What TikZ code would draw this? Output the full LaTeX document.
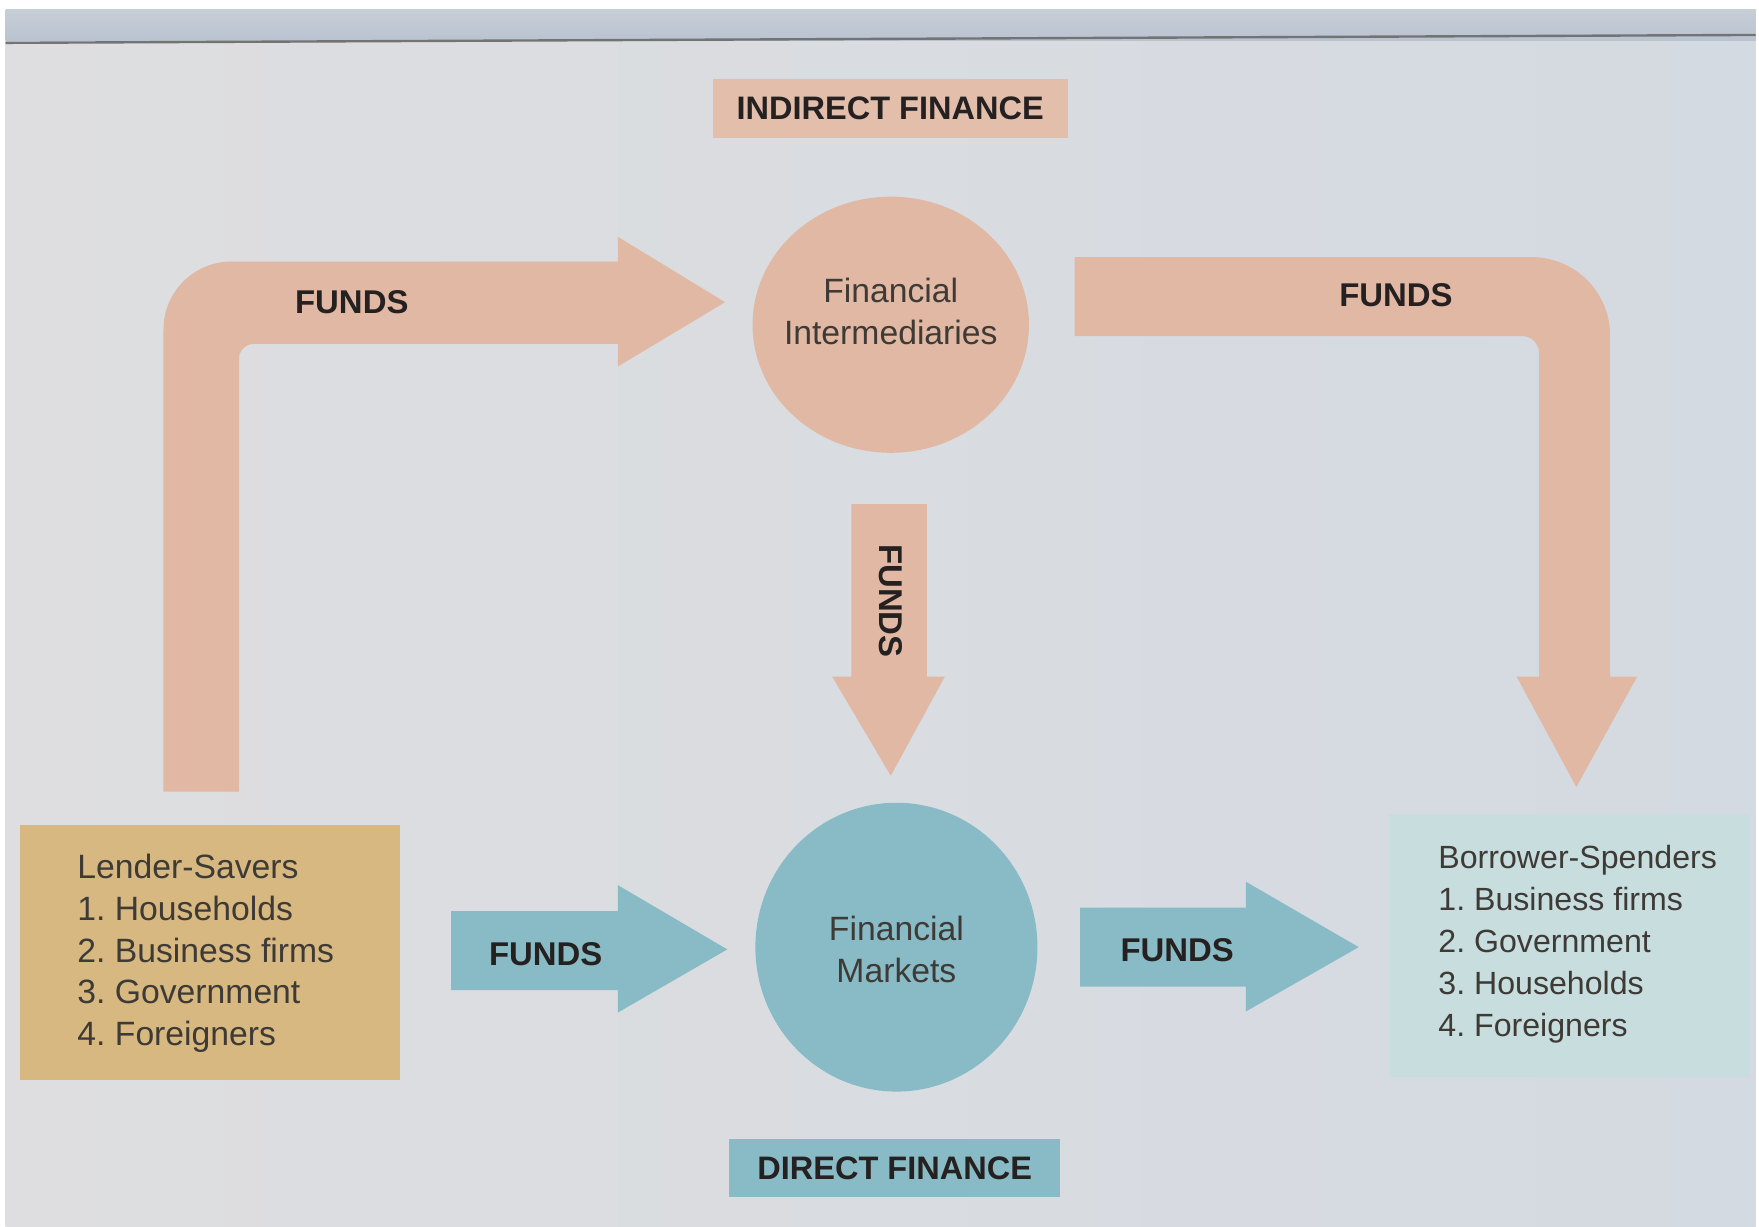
\documentclass[tikz,border=0pt]{standalone}
\usepackage{fontspec}
\setmainfont{Liberation Sans}
\usetikzlibrary{shapes.geometric}
\definecolor{paperL}{RGB}{222,222,224}
\definecolor{paperR}{RGB}{212,218,225}
\definecolor{stripT}{RGB}{200,206,214}
\definecolor{stripB}{RGB}{185,195,208}
\definecolor{salmon}{RGB}{224,184,164}
\definecolor{tealc}{RGB}{136,187,197}
\definecolor{tanc}{RGB}{214,184,128}
\definecolor{lteal}{RGB}{200,221,221}
\definecolor{ink}{RGB}{38,33,33}
\definecolor{boxink}{RGB}{62,58,54}
\tikzset{
  funds/.style={font=\fontsize{8.3pt}{10pt}\selectfont\bfseries, text=ink, inner sep=0pt},
  body/.style={font=\fontsize{8.5pt}{10.5pt}\selectfont\frenchspacing, text=boxink, inner sep=0pt, align=left},
  bodyr/.style={font=\fontsize{8.1pt}{10.6pt}\selectfont\frenchspacing, text=boxink, inner sep=0pt, align=left},
  ctext/.style={font=\fontsize{8.5pt}{10.5pt}\selectfont, text=boxink, inner sep=0pt, align=center},
  tagbox/.style={font=\fontsize{8.2pt}{10pt}\selectfont\bfseries, text=ink, inner sep=0pt, draw=none},
  blob/.style={ellipse, inner sep=0pt, draw=none},
}
\begin{document}
\begin{tikzpicture}[x=0.01cm,y=-0.01cm]
\useasboundingbox (0,0) rectangle (1560,1088);
\fill[white] (0,0) rectangle (1560,1088);
\shade[left color=paperL,right color=paperR] (5,8) rectangle (1557,1091);
\shade[top color=stripT,bottom color=stripB] (5,8) rectangle (1557,36);
\draw[black!55, line width=0.6pt] (5,38) -- (1557,31);

% top-left bent arrow
\fill[salmon] (145,702) -- (145,292) .. controls (145,259) and (172,232) .. (205,232)
  -- (548,232) -- (548,210) -- (643,268) -- (548,325) -- (548,305) -- (225,305)
  .. controls (218,305) and (212,311) .. (212,318) -- (212,702) -- cycle;
% top-right bent arrow
\fill[salmon] (953,228) -- (1358,228) .. controls (1397,228) and (1428,259) .. (1428,298)
  -- (1428,600) -- (1452,600) -- (1398,698) -- (1345,600) -- (1365,600) -- (1365,313)
  .. controls (1365,305) and (1358,298) .. (1350,298) -- (953,298) -- cycle;
% middle down arrow
\fill[salmon] (755,447) -- (822,447) -- (822,600) -- (838,600) -- (790,688) -- (738,600) -- (755,600) -- cycle;
% teal arrows
\fill[tealc] (400,808) -- (548,808) -- (548,785) -- (645,842) -- (548,898) -- (548,878) -- (400,878) -- cycle;
\fill[tealc] (958,805) -- (1105,805) -- (1105,782) -- (1205,840) -- (1105,897) -- (1105,875) -- (958,875) -- cycle;

% circles
\node[blob, fill=salmon, minimum width=2.45cm, minimum height=2.27cm] (fi) at (790,288) {};
\node[blob, fill=tealc, minimum width=2.50cm, minimum height=2.56cm] (fm) at (795,840) {};
\node[ctext] (fitext) at (790,276) {Financial\\Intermediaries};
\node[ctext] (fmtext) at (795,842) {Financial\\Markets};

% boxes
\node[fill=tanc, minimum width=3.37cm, minimum height=2.26cm, inner sep=0pt] (lender) at (186.5,845) {};
\node[body, anchor=north west] (lendertext) at (68,757) {Lender-Savers\\1. Households\\2. Business firms\\3. Government\\4. Foreigners};
\node[fill=lteal, minimum width=3.20cm, minimum height=2.33cm, inner sep=0pt] (borrower) at (1392,838.5) {};
\node[bodyr, anchor=north west] (borrowertext) at (1275,749) {Borrower-Spenders\\1. Business firms\\2. Government\\3. Households\\4. Foreigners};

% tags
\node[tagbox, fill=salmon!92!white, minimum width=3.15cm, minimum height=0.52cm] (indirect) at (789.5,96) {INDIRECT FINANCE};
\node[tagbox, fill=tealc, minimum width=2.93cm, minimum height=0.52cm] (direct) at (793.5,1036) {DIRECT FINANCE};

% FUNDS labels
\node[funds] (f1) at (312,268) {FUNDS};
\node[funds] (f2) at (1238,262) {FUNDS};
\node[funds, rotate=-90] (f3) at (790,533) {FUNDS};
\node[funds] (f4) at (484,846) {FUNDS};
\node[funds] (f5) at (1044,843) {FUNDS};
\end{tikzpicture}
\end{document}
